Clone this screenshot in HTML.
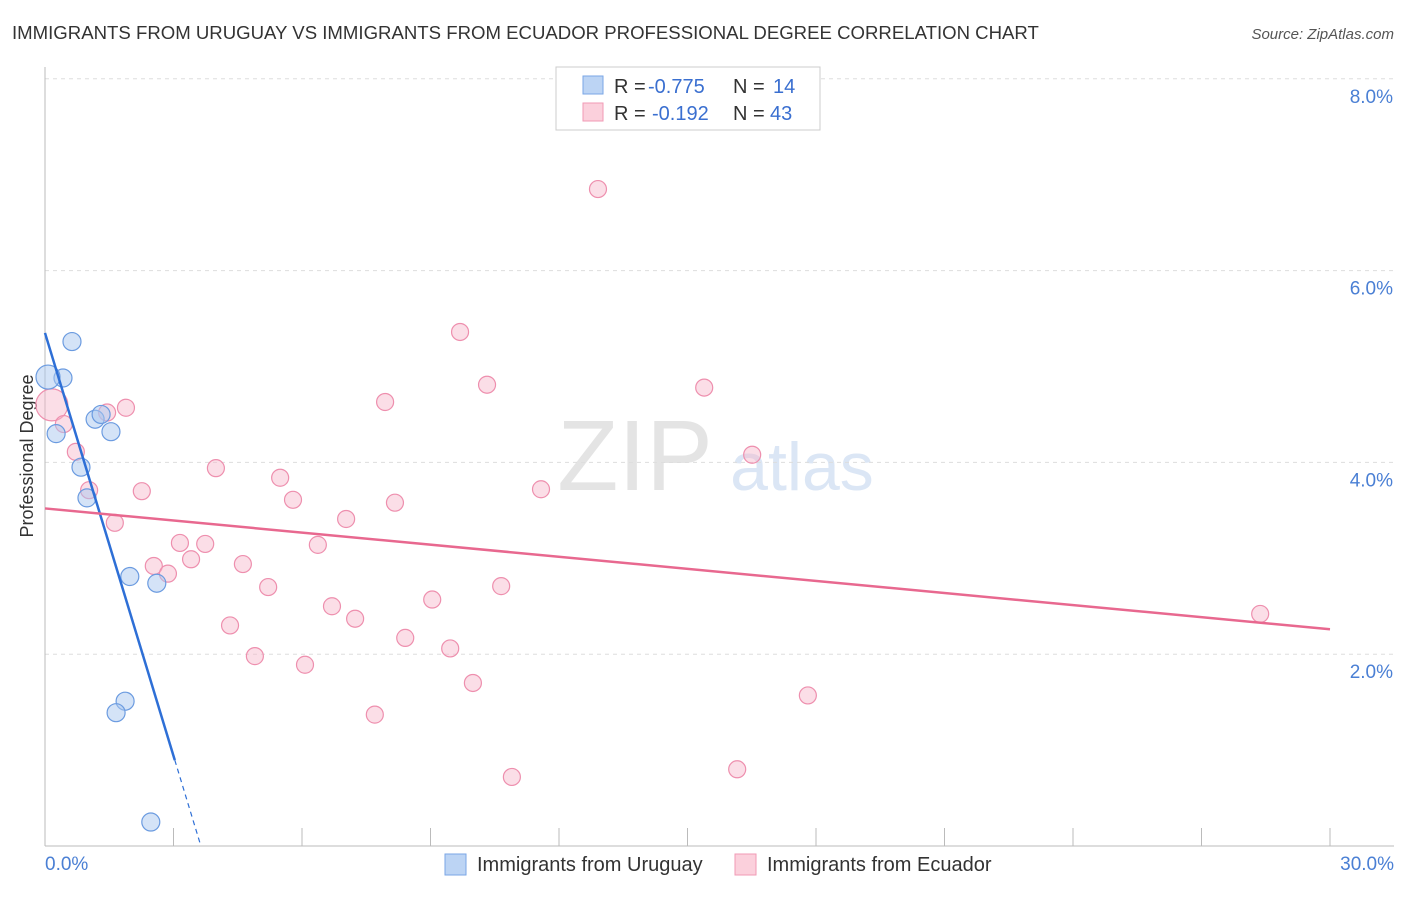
<!DOCTYPE html>
<html><head><meta charset="utf-8"><style>
body{margin:0;background:#fff;font-family:"Liberation Sans",sans-serif;}
svg text{font-family:"Liberation Sans",sans-serif;}
</style></head><body>
<svg id="chart" width="1406" height="892">
<text x="12" y="39" font-size="18.6" fill="#333">IMMIGRANTS FROM URUGUAY VS IMMIGRANTS FROM ECUADOR PROFESSIONAL DEGREE CORRELATION CHART</text>
<text x="1394" y="39" font-size="15" fill="#555" text-anchor="end" font-style="italic">Source: ZipAtlas.com</text>
<text x="635" y="490" font-size="100" fill="#e4e4e4" text-anchor="middle" font-family="Liberation Serif">ZIP</text>
<text x="802" y="490" font-size="68" fill="#dbe6f5" text-anchor="middle">atlas</text>
<g id="grid"></g>
<line x1="45" y1="67" x2="45" y2="846" stroke="#bbb"/>
<line x1="45" y1="846" x2="1394" y2="846" stroke="#bbb"/>
<text transform="translate(33,456) rotate(-90)" font-size="18" fill="#333" text-anchor="middle">Professional Degree</text>
<text x="45" y="870" font-size="19" fill="#4a7fd4">0.0%</text>
<text x="1394" y="870" font-size="19" fill="#4a7fd4" text-anchor="end">30.0%</text>
<g id="marks"></g>
<g>
<rect x="556" y="67" width="264" height="63" fill="#fff" stroke="#ccc"/>
<rect x="583" y="76" width="20" height="18" fill="#bcd4f4" stroke="#7aa6e6"/>
<rect x="583" y="103" width="20" height="18" fill="#fbd0dc" stroke="#f09ab5"/>
<text y="93" font-size="20" fill="#333"><tspan x="614">R =</tspan><tspan x="648" fill="#3a6fd0">-0.775</tspan><tspan x="733">N =</tspan><tspan x="773" fill="#3a6fd0">14</tspan></text>
<text y="120" font-size="20" fill="#333"><tspan x="614">R =</tspan><tspan x="652" fill="#3a6fd0">-0.192</tspan><tspan x="733">N =</tspan><tspan x="770" fill="#3a6fd0">43</tspan></text>
</g>
<g>
<rect x="445" y="854" width="21" height="21" fill="#bcd4f4" stroke="#7aa6e6"/>
<text x="477" y="871" font-size="20" fill="#333">Immigrants from Uruguay</text>
<rect x="735" y="854" width="21" height="21" fill="#fbd0dc" stroke="#f09ab5"/>
<text x="767" y="871" font-size="20" fill="#333">Immigrants from Ecuador</text>
</g>
</svg>
<script>
const yTicks=[2,4,6,8];
const yTickLabels=["2.0%","4.0%","6.0%","8.0%"];
const xTicks=[3,6,9,12,15,18,21,24,27,30];
const uruguayX=[0.63,0.42,0.07,0.26,1.17,1.31,1.54,0.84,0.98,1.98,2.61,1.87,1.66,2.47];
const uruguayY=[5.26,4.88,4.89,4.30,4.45,4.50,4.32,3.95,3.63,2.81,2.74,1.51,1.39,0.25];
const uruguayR=[9,9,12,9,9,9,9,9,9,9,9,9,9,9];
const ecuadorX=[0.16,0.44,0.72,1.03,1.45,1.89,1.63,2.26,2.54,2.87,3.15,3.41,3.74,3.99,4.32,4.62,4.90,5.21,5.49,5.79,6.07,6.37,6.70,7.03,7.24,7.70,7.94,8.17,8.41,9.04,9.46,9.69,9.99,10.32,10.65,10.90,11.58,12.91,15.39,16.16,16.51,17.81,28.37];
const ecuadorY=[4.60,4.40,4.11,3.71,4.52,4.57,3.37,3.70,2.92,2.84,3.16,2.99,3.15,3.94,2.30,2.94,1.98,2.70,3.84,3.61,1.89,3.14,2.50,3.41,2.37,1.37,4.63,3.58,2.17,2.57,2.06,5.36,1.70,4.81,2.71,0.72,3.72,6.85,4.78,0.80,4.08,1.57,2.42];
const uruguayTrend=[5.35,-1.47];
const ecuadorTrend=[3.52,-0.042];
const NS="http://www.w3.org/2000/svg";
const X=v=>45+v*(1285/30), Y=v=>846-v*95.9;
function mk(tag,attrs,parent){const e=document.createElementNS(NS,tag);for(const k in attrs)e.setAttribute(k,attrs[k]);parent.appendChild(e);return e;}
const grid=document.getElementById('grid'), marks=document.getElementById('marks');
yTicks.forEach((t,i)=>{
 const l=mk('line',{x1:45,x2:1394,y1:Y(t),y2:Y(t),stroke:'#ddd','stroke-dasharray':'4,4'},grid);
 
 
 const tx=mk('text',{x:1393,y:Y(t)+24,'font-size':19,fill:'#4a7fd4','text-anchor':'end'},grid);
 tx.textContent=yTickLabels[i];
 
 
});
xTicks.forEach(t=>{
 const l=mk('line',{x1:X(t),x2:X(t),y1:828,y2:846,stroke:'#bbb'},grid);
 
 
});
ecuadorX.forEach((x,i)=>{
 const c=mk('circle',{cx:X(x),cy:Y(ecuadorY[i]),r:i==0?16:8.5,fill:'#f7b6c9','fill-opacity':0.45,stroke:'#ee8fae','stroke-width':1.2},marks);
 
 
});
uruguayX.forEach((x,i)=>{
 const c=mk('circle',{cx:X(x),cy:Y(uruguayY[i]),r:uruguayR[i],fill:'#a9c7f0','fill-opacity':0.5,stroke:'#6b9be0','stroke-width':1.2},marks);
 
 
});
const ue=3.03, uz=-uruguayTrend[0]/uruguayTrend[1];
let t1=mk('line',{x1:X(0),y1:Y(uruguayTrend[0]),x2:X(ue),y2:Y(uruguayTrend[0]+uruguayTrend[1]*ue),stroke:'#2e6fd6','stroke-width':2.5},marks);


let t2=mk('line',{x1:X(ue),y1:Y(uruguayTrend[0]+uruguayTrend[1]*ue),x2:X(uz),y2:Y(0),stroke:'#2e6fd6','stroke-width':1.2,'stroke-dasharray':'5,4'},marks);


let t3=mk('line',{x1:X(0),y1:Y(ecuadorTrend[0]),x2:X(30),y2:Y(ecuadorTrend[0]+ecuadorTrend[1]*30),stroke:'#e8688f','stroke-width':2.5},marks);


</script>
</body></html>
